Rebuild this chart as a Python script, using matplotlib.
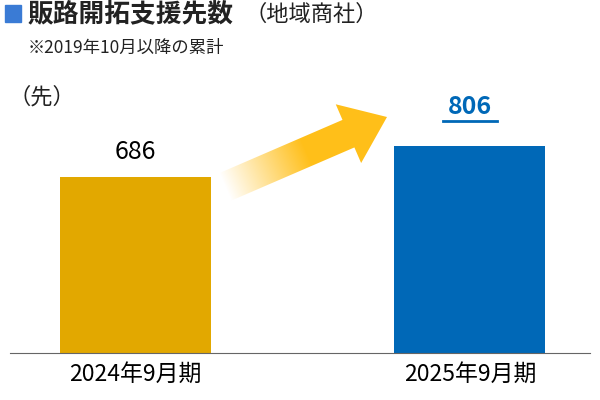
import matplotlib
matplotlib.use("Agg")
import matplotlib.pyplot as plt
import numpy as np
from matplotlib.patches import Polygon, Rectangle

plt.rcParams['font.family'] = ['Noto Sans CJK JP', 'DejaVu Sans']

categories = ["2024年9月期", "2025年9月期"]
values = [686, 806]
colors = ["#E2A800", "#0068B7"]

fig = plt.figure(figsize=(6, 4), dpi=100)
ax = fig.add_axes([10/600, 47/400, 580/600, 257/400])
x = np.arange(len(values))
ax.bar(x, values, width=0.451, color=colors)
ax.set_xlim(-0.375, 1.359)
ax.set_ylim(0, 1000)
for s in ["top", "right", "left"]:
    ax.spines[s].set_visible(False)
ax.spines["bottom"].set_color("#666666")
ax.set_yticks([])
ax.set_xticks(x)
ax.set_xticklabels(categories, fontsize=16.5)
ax.tick_params(axis="x", length=0, pad=7)
ax.text(0, values[0] + 45, f"{values[0]}", ha="center", va="bottom", fontsize=18)
ax.text(1, values[1] + 105, f"{values[1]}", ha="center", va="bottom",
        fontsize=18, fontweight="bold", color="#0068B7")
ax.plot([0.92, 1.08], [values[1] + 95, values[1] + 95], color="#0068B7", lw=2)

# overlay in pixel coords
ov = fig.add_axes([0, 0, 1, 1])
ov.set_xlim(0, 600)
ov.set_ylim(400, 0)
ov.axis("off")
ov.add_patch(Rectangle((5, 5), 16, 17, color="#3A7BD5"))
ov.text(28, 14, "販路開拓支援先数", fontsize=18.5, fontweight="bold", va="center", color="#222222")
ov.text(244, 14, "（地域商社）", fontsize=16, va="center", color="#222222")
ov.text(28, 48, "※2019年10月以降の累計", fontsize=12.5, va="center", color="#222222")
ov.text(8, 97, "（先）", fontsize=16, va="center", color="#222222")

# gradient arrow
tail = np.array([225.0, 187.0])
tip = np.array([387.0, 117.0])
d = tip - tail
L = np.hypot(*d)
u = d / L
n = np.array([-u[1], u[0]])
sw, hw, hl = 15, 32, 42
base = tip - u * hl
pts = [tail + n*sw, base + n*sw, base + n*hw, tip, base - n*hw, base - n*sw, tail - n*sw]
poly = Polygon(pts, closed=True, facecolor="none", edgecolor="none")
ov.add_patch(poly)
gx, gy = np.meshgrid(np.arange(600), np.arange(400))
proj = ((gx - tail[0]) * u[0] + (gy - tail[1]) * u[1]) / L
alpha = np.clip(proj / 0.5, 0, 1)
img = np.zeros((400, 600, 4))
img[..., 0] = 1.0
img[..., 1] = 0.75
img[..., 2] = 0.1
img[..., 3] = alpha
im = ov.imshow(img, extent=(0, 600, 400, 0), interpolation="bilinear")
im.set_clip_path(poly)
ov.set_xlim(0, 600)
ov.set_ylim(400, 0)

fig.savefig("out.png", dpi=100)
